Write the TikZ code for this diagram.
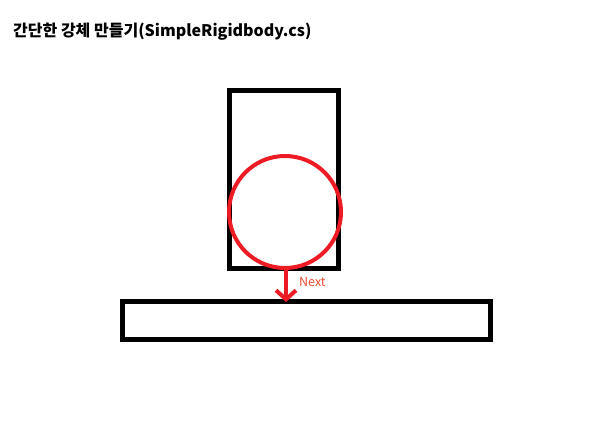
\documentclass[tikz,border=0pt]{standalone}
\usepackage{fontspec}
\newfontfamily\krfont{Noto Sans CJK KR}
\usetikzlibrary{arrows.meta}
\definecolor{pred}{HTML}{ED1C24}
\definecolor{nextc}{HTML}{EE4B30}
\begin{document}
\begin{tikzpicture}[x=1pt,y=-1pt,
  box/.style={draw=black,line width=5pt,inner sep=0pt,rectangle},
  ball/.style={draw=pred,line width=4pt,circle,inner sep=0pt,minimum size=112pt},
  fall/.style={draw=pred,line width=4pt,-{Straight Barb[length=9pt,width=20pt]}}]
\useasboundingbox (0,0) rectangle (606,441);
\node[anchor=base west,font=\krfont\bfseries\fontsize{16pt}{18pt}\selectfont,inner sep=0pt] (title) at (13,37) {간단한 강체 만들기(SimpleRigidbody.cs)};
\node[box,minimum width=109pt,minimum height=178pt] (body) at (284,179.5) {};
\node[box,minimum width=367.5pt,minimum height=37.5pt] (ground) at (306.25,320.25) {};
\node[ball] (ball) at (285,212) {};
\coordinate (tip) at (286,302);
\draw[fall] (ball.south -| tip) -- (tip);
\node[anchor=base west,text=nextc,font=\krfont\fontsize{12.5pt}{14pt}\selectfont,inner sep=0pt] (next) at (299,287) {Next};
\end{tikzpicture}
\end{document}
